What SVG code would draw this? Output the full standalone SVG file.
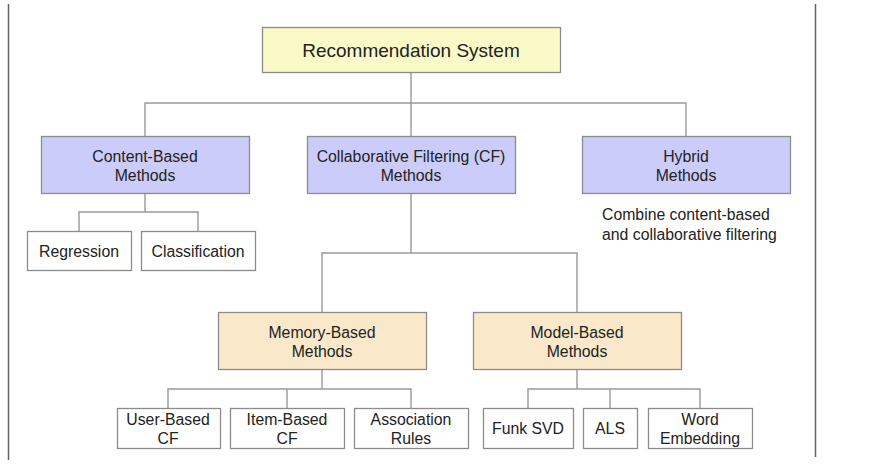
<svg xmlns="http://www.w3.org/2000/svg" width="869" height="465" viewBox="0 0 869 465">
<style>
.b{stroke:#8c8c8c;stroke-width:1.3}
.root{fill:#fafac8}
.lav{fill:#ccccfa}
.tan{fill:#f9e8c9}
.leaf{fill:#fff}
.t{font-family:"Liberation Sans",Arial,sans-serif;font-size:15.8px;fill:#222;text-anchor:middle}
.c{fill:none;stroke:#999;stroke-width:1.4}
</style>
<rect width="869" height="465" fill="#fff"/>
<line x1="8.5" y1="4" x2="8.5" y2="460" stroke="#666" stroke-width="1.5"/>
<line x1="815.5" y1="4" x2="815.5" y2="457" stroke="#666" stroke-width="1.5"/>
<g id="connectors">
<path class="c" d="M411 72V103M145 136V103H686V136M411 103V136"/>
<path class="c" d="M145 193V212M79 231V212H198V231"/>
<path class="c" d="M411 193V253M322 312V253H577V312"/>
<path class="c" d="M322 369V389M168 408V389H411V408M287 389V408"/>
<path class="c" d="M577 369V389M528 408V389H700V408M610 389V408"/>
</g>
<g id="root"><rect class="b root" x="262.5" y="27.5" width="298" height="45"/><text class="t" x="411" y="57" style="font-size:19px">Recommendation System</text></g>
<g id="content"><rect class="b lav" x="41.5" y="136.5" width="208" height="57"/><text class="t" x="145" y="162">Content-Based</text><text class="t" x="145" y="181">Methods</text></g>
<g id="cf"><rect class="b lav" x="307.5" y="136.5" width="208" height="57"/><text class="t" x="411" y="162">Collaborative Filtering (CF)</text><text class="t" x="411" y="181">Methods</text></g>
<g id="hybrid"><rect class="b lav" x="582.5" y="136.5" width="208" height="57"/><text class="t" x="686" y="162">Hybrid</text><text class="t" x="686" y="181">Methods</text></g>
<g id="hybrid-note"><text class="t" x="602" y="220" style="text-anchor:start">Combine content-based</text><text class="t" x="602" y="240" style="text-anchor:start">and collaborative filtering</text></g>
<g id="regression"><rect class="b leaf" x="27.5" y="231.5" width="104" height="39"/><text class="t" x="79" y="257">Regression</text></g>
<g id="classification"><rect class="b leaf" x="141.5" y="231.5" width="114" height="39"/><text class="t" x="198" y="257">Classification</text></g>
<g id="memory"><rect class="b tan" x="218.5" y="312.5" width="208" height="57"/><text class="t" x="322" y="338">Memory-Based</text><text class="t" x="322" y="357">Methods</text></g>
<g id="model"><rect class="b tan" x="473.5" y="312.5" width="208" height="57"/><text class="t" x="577" y="338">Model-Based</text><text class="t" x="577" y="357">Methods</text></g>
<g id="user"><rect class="b leaf" x="117.5" y="408.5" width="103" height="40"/><text class="t" x="168" y="425">User-Based</text><text class="t" x="168" y="444">CF</text></g>
<g id="item"><rect class="b leaf" x="230.5" y="408.5" width="114" height="40"/><text class="t" x="287" y="425">Item-Based</text><text class="t" x="287" y="444">CF</text></g>
<g id="assoc"><rect class="b leaf" x="354.5" y="408.5" width="114" height="40"/><text class="t" x="411" y="425">Association</text><text class="t" x="411" y="444">Rules</text></g>
<g id="funk"><rect class="b leaf" x="483.5" y="408.5" width="90" height="40"/><text class="t" x="528" y="434">Funk SVD</text></g>
<g id="als"><rect class="b leaf" x="583.5" y="408.5" width="54" height="40"/><text class="t" x="610" y="434">ALS</text></g>
<g id="word"><rect class="b leaf" x="648.5" y="408.5" width="104" height="40"/><text class="t" x="700" y="425">Word</text><text class="t" x="700" y="444">Embedding</text></g>
</svg>
